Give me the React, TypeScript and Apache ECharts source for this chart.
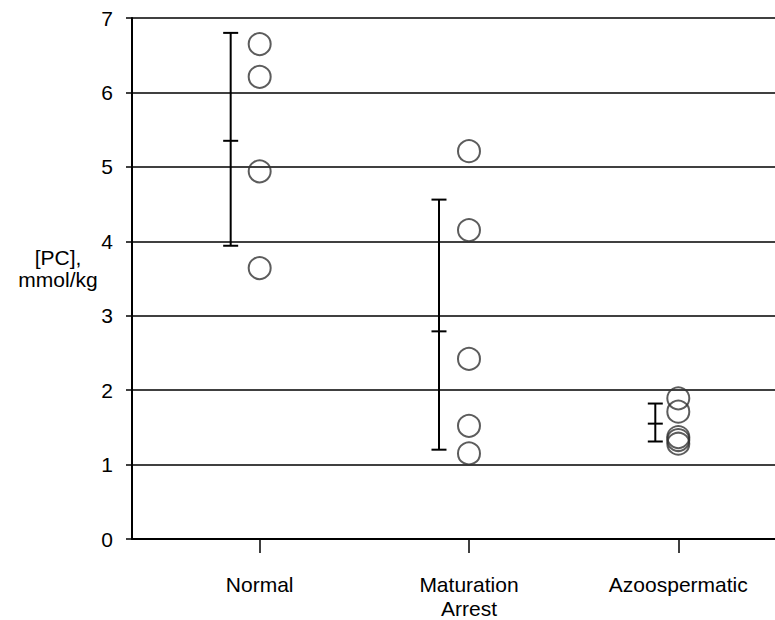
import React, { useEffect, useRef } from "react";
import * as echarts from "echarts";

const categories = ["Normal", "Maturation\nArrest", "Azoospermatic"];
const normalValues = [6.65, 6.21, 4.94, 3.64];
const maturationValues = [5.21, 4.15, 2.42, 1.52, 1.15];
const azooValues = [1.89, 1.71, 1.37, 1.33, 1.28];
const errLow = [3.94, 1.2, 1.31];
const errMean = [5.35, 2.79, 1.55];
const errHigh = [6.8, 4.56, 1.82];
const yTicks = [0, 1, 2, 3, 4, 5, 6, 7];

const ERR_DX = [-29, -30, -23];
const FONT = '"Liberation Sans", Arial, sans-serif';

export default function App() {
  const ref = useRef<HTMLDivElement>(null);
  useEffect(() => {
    if (!ref.current) return;
    const chart = echarts.init(ref.current, null, { renderer: "svg" });
    const groups = [normalValues, maturationValues, azooValues];
    const scatterData: number[][] = [];
    groups.forEach((g, i) => g.forEach((v) => scatterData.push([i + 1, v])));
    const errData = categories.map((_, i) => [i + 1, errLow[i], errMean[i], errHigh[i]]);

    chart.setOption({
      animation: false,
      backgroundColor: "#fff",
      textStyle: { fontFamily: FONT },
      grid: {
        left: 132,
        right: 0,
        top: 18,
        bottom: 81,
        containLabel: false,
        outerBoundsMode: "none",
      },
      xAxis: {
        type: "value",
        min: 0.39,
        max: 3.462,
        splitLine: { show: false },
        axisLine: { show: true, onZero: false, lineStyle: { color: "#000", width: 2 } },
        axisTick: {
          show: true,
          customValues: [1, 2, 3],
          length: 14,
          lineStyle: { color: "#000", width: 1.5 },
        },
        axisLabel: {
          customValues: [1, 2, 3],
          formatter: (v: number) => categories[Math.round(v) - 1] ?? "",
          color: "#000",
          fontSize: 21,
          fontFamily: FONT,
          margin: 33,
          lineHeight: 24,
        },
      },
      yAxis: {
        type: "value",
        min: 0,
        max: 7,
        interval: 1,
        axisLine: { show: true, lineStyle: { color: "#000", width: 2 } },
        axisTick: { show: true, length: 6, lineStyle: { color: "#000", width: 1.5 } },
        axisLabel: {
          color: "#000",
          fontSize: 21,
          fontFamily: FONT,
          margin: 19,
          formatter: (v: number) => (yTicks.includes(v) ? String(v) : ""),
        },
        splitLine: { show: true, lineStyle: { color: "#000", width: 1.5 } },
      },
      graphic: [
        {
          type: "text",
          x: 58,
          y: 268,
          style: {
            text: "[PC],\nmmol/kg",
            fill: "#000",
            font: `21px ${FONT}`,
            align: "center",
            verticalAlign: "middle",
            lineHeight: 22,
          },
        },
      ],
      series: [
        {
          type: "custom",
          data: errData,
          z: 3,
          renderItem: (params: any, api: any) => {
            const x = api.value(0);
            const pLow = api.coord([x, api.value(1)]);
            const pMean = api.coord([x, api.value(2)]);
            const pHigh = api.coord([x, api.value(3)]);
            const cx = pLow[0] + ERR_DX[params.dataIndex];
            const hw = 7.5;
            const st = { stroke: "#000", lineWidth: 2 };
            return {
              type: "group",
              children: [
                { type: "line", shape: { x1: cx, y1: pHigh[1], x2: cx, y2: pLow[1] }, style: st },
                { type: "line", shape: { x1: cx - hw, y1: pHigh[1], x2: cx + hw, y2: pHigh[1] }, style: st },
                { type: "line", shape: { x1: cx - hw, y1: pMean[1], x2: cx + hw, y2: pMean[1] }, style: st },
                { type: "line", shape: { x1: cx - hw, y1: pLow[1], x2: cx + hw, y2: pLow[1] }, style: st },
              ],
            };
          },
        },
        {
          type: "scatter",
          data: scatterData,
          symbol: "circle",
          symbolSize: 22,
          z: 4,
          itemStyle: { color: "rgba(255,255,255,0)", borderColor: "#333", borderWidth: 2 },
        },
      ],
    });
    return () => chart.dispose();
  }, []);
  return (
    <div
      ref={ref}
      style={{ position: "fixed", left: 0, top: 0, width: 775, height: 620 }}
    />
  );
}
